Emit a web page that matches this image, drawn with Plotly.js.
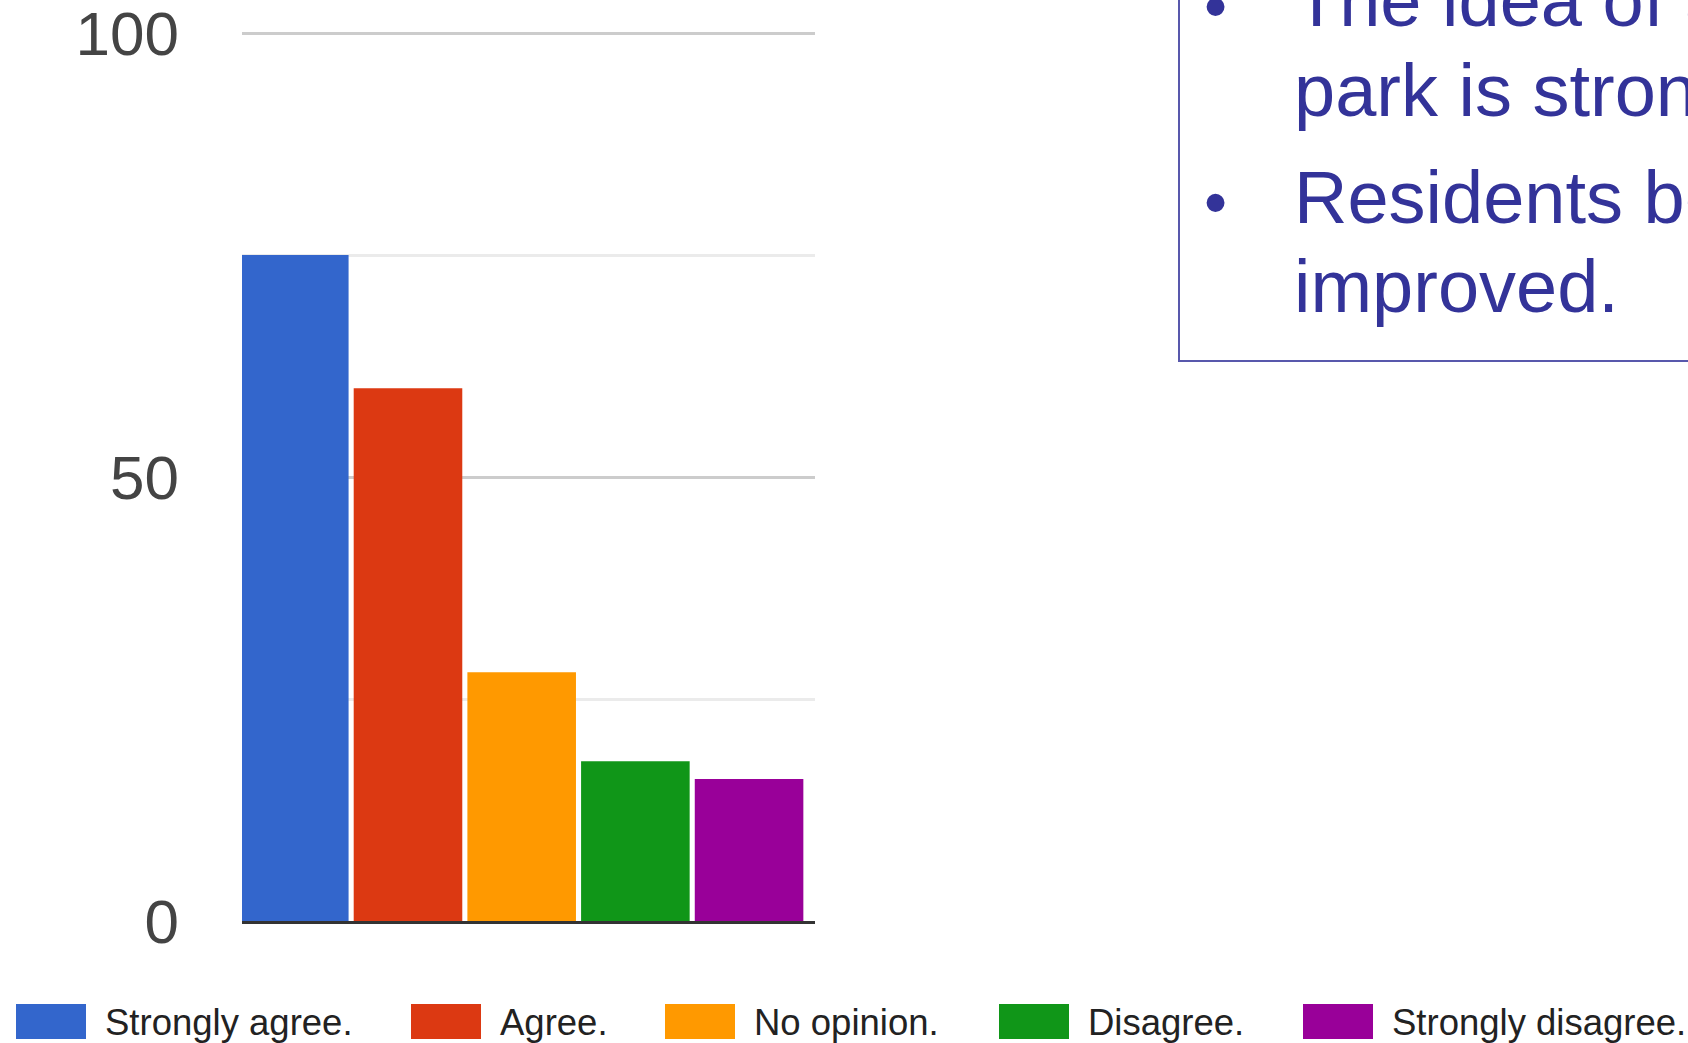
<!DOCTYPE html>
<html>
<head>
<meta charset="utf-8">
<script src="https://cdn.plot.ly/plotly-3.0.1.min.js"></script>
<style>
  html, body { margin: 0; padding: 0; background: #ffffff; overflow: hidden; }
  #chart { width: 1688px; height: 1043px; }
</style>
</head>
<body>
<div id="chart"></div>
<script>
// ---- data ----
const categories = ['Strongly agree.', 'Agree.', 'No opinion.', 'Disagree.', 'Strongly disagree.'];
const counts = [75, 60, 28, 18, 16];
const barColors = ['#3366cc', '#dc3912', '#ff9900', '#109618', '#990099'];
const yTickVals = [0, 50, 100];
const yTickText = ['0', '50', '100'];
const noteParagraphs = [
  ['The idea of a new', 'park is strongly supported.'],
  ['Residents believe it', 'improved.']
];

// ---- layout geometry (pixels) ----
const W = 1688, H = 1043;
const L = 242, R = 815, T = 29, B = 921;
const Y_MAX = 100.45;
const px2x = p => (p - L) / (R - L);
const py2y = p => (B - p) / (B - T);
const FONT = '"Liberation Sans", Arial, Helvetica, sans-serif';

const legendSwatchX = [16, 411, 665, 999, 1303];
const legendSwatchW = 70;
const legendTextGap = 17;
const legendTop = 1004, legendBottom = 1039, legendMid = 1022;

const shapes = [];
const annotations = [];

// legend built from categories & colours
categories.forEach((c, i) => {
  shapes.push({
    type: 'rect', xref: 'paper', yref: 'paper',
    x0: px2x(legendSwatchX[i]), x1: px2x(legendSwatchX[i] + legendSwatchW),
    y0: py2y(legendBottom), y1: py2y(legendTop),
    fillcolor: barColors[i], line: { width: 0 }
  });
  annotations.push({
    xref: 'paper', yref: 'paper',
    x: px2x(legendSwatchX[i] + legendSwatchW + legendTextGap), y: py2y(legendMid),
    xanchor: 'left', yanchor: 'middle', showarrow: false,
    text: c, font: { family: FONT, size: 36.5, color: '#222222' }
  });
});

// note box on the right
shapes.push({
  type: 'rect', xref: 'paper', yref: 'paper',
  x0: px2x(1179), x1: px2x(1760), y0: py2y(361), y1: py2y(-20),
  fillcolor: 'rgba(0,0,0,0)', line: { color: '#5858ac', width: 2 }
});
const noteColor = '#333399';
const lineCenters = [[1, 91], [197, 287]];
noteParagraphs.forEach((para, pi) => {
  annotations.push({
    xref: 'paper', yref: 'paper', x: px2x(1215), y: py2y(lineCenters[pi][0] + 5),
    xanchor: 'center', yanchor: 'middle', showarrow: false,
    text: '•', font: { family: FONT, size: 66, color: noteColor }
  });
  para.forEach((ln, li) => {
    annotations.push({
      xref: 'paper', yref: 'paper', x: px2x(1292), y: py2y(lineCenters[pi][li]),
      xanchor: 'left', yanchor: 'middle', showarrow: false,
      text: ln, font: { family: FONT, size: 74, color: noteColor }
    });
  });
});

const trace = {
  type: 'bar',
  x: categories,
  y: counts,
  marker: { color: barColors, line: { width: 0 } },
  showlegend: false,
  hoverinfo: 'x+y'
};

const layout = {
  width: W, height: H,
  margin: { l: L, r: W - R, t: T, b: H - B, pad: 0 },
  paper_bgcolor: '#ffffff', plot_bgcolor: '#ffffff',
  bargap: 0.045,
  showlegend: false,
  font: { family: FONT },
  xaxis: {
    type: 'category',
    range: [-0.46, 4.58],
    showticklabels: false, ticks: '',
    showgrid: false, zeroline: false,
    showline: true, linecolor: '#333333', linewidth: 3
  },
  yaxis: {
    range: [0, Y_MAX],
    tickvals: yTickVals, ticktext: yTickText,
    tickfont: { family: FONT, size: 62, color: '#444444' },
    ticklabelstandoff: 62,
    ticklabeloverflow: 'allow',
    ticks: '',
    showgrid: true, gridcolor: '#cccccc', gridwidth: 3,
    minor: { tickvals: [25, 75], showgrid: true, gridcolor: '#ebebeb', gridwidth: 3, ticks: '' },
    zeroline: false, showline: false
  },
  shapes: shapes,
  annotations: annotations
};

Plotly.newPlot('chart', [trace], layout, { displayModeBar: false, staticPlot: true });
</script>
</body>
</html>
